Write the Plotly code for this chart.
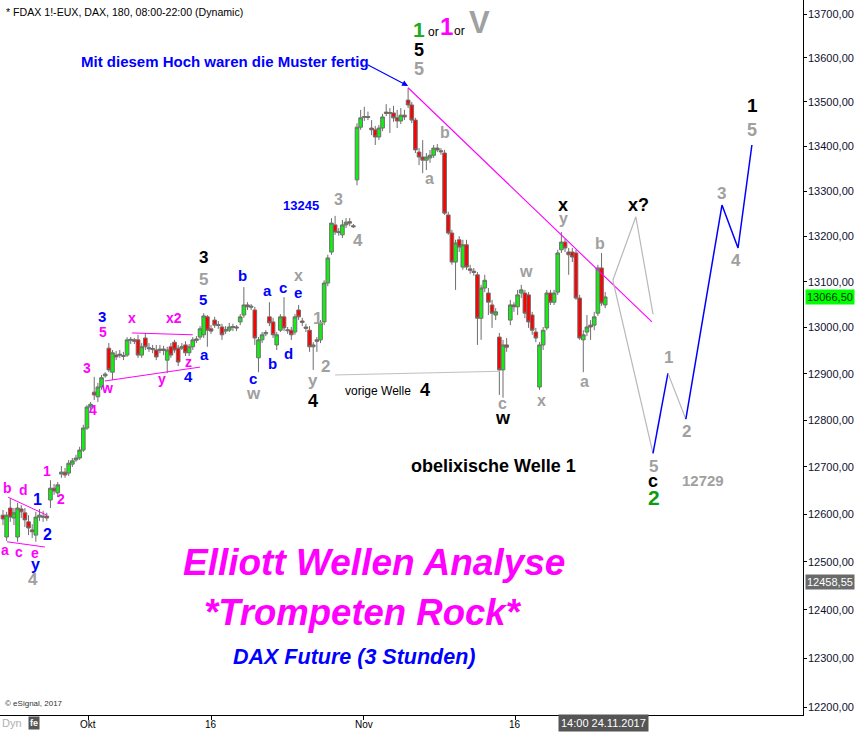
import math
import plotly.graph_objects as go

# ---------------- data ----------------
opens = [12598, 12552, 12613, 12592, 12552, 12611, 12603, 12584, 12567, 12556, 12594, 12596, 12596,
         12630, 12655, 12645, 12685, 12689, 12687, 12706, 12715, 12719, 12736, 12783, 12828, 12860,
         12850, 12871, 12895, 12955, 12903, 12940, 12942, 12937, 12940, 12972, 12973, 12973, 12940,
         12977, 12956, 12952, 12951, 12950, 12953, 12929, 12958, 12968, 12955, 12955, 12962, 12945,
         12958, 12975, 12979, 12984, 13023, 12997, 13016, 13004, 13001, 12992, 12994, 13000, 13001,
         13012, 13027, 13049, 13044, 13038, 12934, 12973, 12986, 13023, 13012, 12962, 12994, 13023,
         12995, 12994, 12990, 13038, 13014, 13001, 12994, 12958, 12973, 12973, 13012, 13097, 13165,
         13225, 13210, 13203, 13225, 13232, 13223, 13325, 13443, 13465, 13467, 13441, 13437, 13421,
         13441, 13477, 13474, 13475, 13464, 13457, 13470, 13504, 13493, 13459, 13387, 13376, 13369,
         13374, 13380, 13396, 13390, 13385, 13247, 13207, 13143, 13192, 13132, 13181, 13128, 13123,
         13115, 13020, 13086, 13075, 13049, 13027, 12979, 12908, 12962, 13016, 13049, 13045, 13075,
         13075, 13071, 13027, 12990, 12871, 12962, 12999, 13075, 13055, 13077, 13170, 13187, 13165,
         13165, 13163, 13064, 12973, 12990, 13005, 13005, 13031, 13130, 13049]
highs = [12609, 12605, 12634, 12613, 12624, 12619, 12613, 12598, 12579, 12605, 12611, 12607, 12603,
         12672, 12664, 12668, 12702, 12698, 12715, 12719, 12726, 12743, 12790, 12832, 12839, 12893,
         12880, 12897, 12903, 12966, 12951, 12949, 12951, 12947, 12979, 12979, 12977, 12984, 12966,
         12988, 12966, 12962, 12962, 12962, 12960, 12958, 12966, 12973, 12962, 12966, 12970, 12964,
         12979, 12981, 13003, 13031, 13027, 13005, 13023, 13014, 13008, 13003, 13010, 13008, 13005,
         13029, 13088, 13055, 13051, 13045, 12979, 12990, 12994, 13055, 13021, 12990, 13029, 13066,
         13001, 13001, 13029, 13049, 13021, 13008, 13003, 12968, 12979, 13016, 13103, 13159, 13240,
         13245, 13218, 13236, 13240, 13240, 13227, 13452, 13482, 13489, 13478, 13459, 13446, 13448,
         13473, 13495, 13486, 13491, 13482, 13486, 13482, 13532, 13500, 13464, 13396, 13414, 13385,
         13392, 13403, 13405, 13396, 13392, 13254, 13214, 13192, 13200, 13192, 13192, 13137, 13130,
         13121, 13093, 13115, 13086, 13060, 13042, 12988, 12973, 12977, 13060, 13055, 13082, 13093,
         13082, 13077, 13034, 12999, 12968, 13001, 13082, 13082, 13082, 13170, 13209, 13194, 13174,
         13174, 13170, 13071, 12994, 13027, 13016, 13034, 13137, 13163, 13077]
lows = [12577, 12544, 12584, 12577, 12542, 12592, 12573, 12556, 12550, 12542, 12586, 12584, 12586,
        12613, 12641, 12636, 12677, 12677, 12681, 12700, 12711, 12715, 12732, 12779, 12822, 12843,
        12839, 12865, 12891, 12903, 12886, 12929, 12934, 12929, 12936, 12964, 12964, 12934, 12934,
        12951, 12947, 12944, 12929, 12944, 12940, 12901, 12934, 12945, 12916, 12951, 12938, 12938,
        12951, 12966, 12973, 12977, 12958, 12986, 12999, 12997, 12973, 12986, 12990, 12992, 12992,
        13005, 13021, 13038, 13038, 12962, 12903, 12966, 12981, 13003, 12977, 12951, 12990, 12992,
        12986, 12973, 12984, 13016, 13003, 12990, 12947, 12908, 12947, 12966, 13005, 13090, 13159,
        13203, 13201, 13196, 13218, 13222, 13218, 13313, 13437, 13457, 13459, 13425, 13403, 13414,
        13434, 13468, 13430, 13455, 13441, 13450, 13459, 13486, 13452, 13385, 13358, 13340, 13347,
        13363, 13374, 13387, 13381, 13247, 13203, 13137, 13082, 13165, 13126, 13126, 13117, 13113,
        12962, 12973, 13077, 13027, 12999, 13016, 12854, 12848, 12947, 13005, 13034, 13027, 13064,
        13020, 12999, 12984, 12968, 12865, 12951, 12994, 13049, 13049, 13071, 13163, 13165, 13115,
        13143, 13060, 12973, 12903, 12981, 12973, 12994, 13025, 13047, 13042]
closes = [12590, 12598, 12594, 12603, 12613, 12605, 12588, 12571, 12563, 12594, 12598, 12594, 12592,
          12655, 12649, 12662, 12689, 12683, 12708, 12713, 12719, 12736, 12783, 12828, 12834, 12854,
          12871, 12891, 12899, 12908, 12945, 12936, 12940, 12939, 12973, 12974, 12970, 12940, 12958,
          12958, 12954, 12954, 12936, 12953, 12950, 12951, 12940, 12951, 12925, 12958, 12945, 12958,
          12973, 12972, 12997, 13025, 12994, 12992, 13005, 13006, 12984, 12995, 13001, 13002, 12999,
          13023, 13049, 13045, 13046, 12977, 12973, 12984, 12989, 13010, 12984, 12984, 13023, 12999,
          12993, 12984, 13023, 13023, 13011, 12998, 12958, 12962, 12970, 13010, 13097, 13152, 13229,
          13209, 13208, 13225, 13231, 13229, 13221, 13443, 13464, 13467, 13465, 13437, 13421, 13441,
          13466, 13474, 13476, 13464, 13457, 13470, 13466, 13493, 13459, 13392, 13376, 13369, 13376,
          13380, 13396, 13392, 13388, 13251, 13207, 13143, 13185, 13176, 13181, 13132, 13125, 13120,
          13020, 13086, 13103, 13055, 13031, 13034, 12908, 12962, 12957, 13049, 13045, 13071, 13082,
          13031, 13012, 12994, 12977, 12962, 12994, 13075, 13055, 13075, 13163, 13187, 13174, 13159,
          13154, 13064, 12977, 12984, 13001, 13001, 13023, 13130, 13053, 13066.5]
bars = list(range(len(opens)))

x_tick_vals = [23.3, 57.1, 98.9, 140.3]
x_tick_text = ["Okt", "16", "Nov", "16"]
y_tick_vals = [12200, 12300, 12400, 12500, 12600, 12700, 12800, 12900,
               13000, 13100, 13200, 13300, 13400, 13500, 13600, 13700]
y_tick_text = ["12200,00", "12300,00", "12400,00", "12500,00", "12600,00", "12700,00",
               "12800,00", "12900,00", "13000,00", "13100,00", "13200,00", "13300,00",
               "13400,00", "13500,00", "13600,00", "13700,00"]

last_price = 13066.5
last_price_text = "13066,50"
marker_price = 12458.55
marker_text = "12458,55"

# wave lines (bar position, price)
trend_bar, trend_price = [111, 177.8], [13532, 13012]
tri_up_bar, tri_up_price = [1.4, 12.0], [12636, 12598]
tri_lo_bar, tri_lo_price = [1.1, 11.5], [12542, 12531]
flat_up_bar, flat_up_price = [35.3, 52.0], [12988, 12984]
flat_lo_bar, flat_lo_price = [27.9, 54.0], [12884, 12914]
prev4_bar, prev4_price = [91.0, 136.2], [12897, 12905]
xq_bar, xq_price = [167.1, 173.4, 178.1], [13103, 13243, 13029]
down_bar, down_price = [167.1, 178.1], [13103, 12729]
w1_bar, w1_price = [178.1, 182.2], [12729, 12901]
w2_bar, w2_price = [182.2, 187.1], [12901, 12802]
w35_bar, w35_price = [187.1, 197.0, 201.4, 205.2], [12802, 13269, 13174, 13403]

# ---------------- figure ----------------
FONT = "Liberation Sans, Arial, sans-serif"
MAG, BLU, GRY, BLK, GRN = "#ff00ff", "#0000ff", "#a0a0a0", "#000000", "#109a10"

fig = go.Figure()
fig.add_trace(go.Candlestick(
    x=bars, open=opens, high=highs, low=lows, close=closes,
    increasing=dict(line=dict(color="#6e6e6e", width=1), fillcolor="#10f010"),
    decreasing=dict(line=dict(color="#6e6e6e", width=1), fillcolor="#ff0000"),
    whiskerwidth=0, hoverinfo="skip"))


def line(xs, ys, color, width=1.0):
    fig.add_trace(go.Scatter(x=xs, y=ys, mode="lines", hoverinfo="skip",
                             line=dict(color=color, width=width)))


line(trend_bar, trend_price, MAG, 1.1)
line(tri_up_bar, tri_up_price, MAG, 1)
line(tri_lo_bar, tri_lo_price, MAG, 1)
line(flat_up_bar, flat_up_price, MAG, 1)
line(flat_lo_bar, flat_lo_price, MAG, 1)
line(prev4_bar, prev4_price, "#c0c0c0", 1)
line(xq_bar, xq_price, "#b8b8b8", 1.2)
line(down_bar, down_price, "#b8b8b8", 1.2)
line(w1_bar, w1_price, BLU, 1.5)
line(w2_bar, w2_price, "#b8b8b8", 1.2)
line(w35_bar, w35_price, BLU, 1.5)

PW, PH = 803.0, 715.0
ann = []


def lab(text, xp, yp, color, size, bold=True, italic=False, xanchor="center"):
    t = text
    if bold:
        t = "<b>" + t + "</b>"
    if italic:
        t = "<i>" + t + "</i>"
    ann.append(dict(text=t, x=xp / PW, y=1 - yp / PH, xref="paper", yref="paper",
                    showarrow=False, xanchor=xanchor, yanchor="middle",
                    font=dict(family=FONT, size=size, color=color)))


# header
lab("* FDAX 1!-EUX, DAX, 180, 08:00-22:00 (Dynamic)", 4, 12, BLK, 10.6, bold=False, xanchor="left")
lab("Mit diesem Hoch waren die Muster fertig", 225, 61, BLU, 15)
ann.append(dict(x=111, y=math.log10(13536), xref="x", yref="y", ax=-42, ay=-22,
                showarrow=True, arrowhead=2, arrowsize=1, arrowwidth=1.2, arrowcolor=BLU, text=""))

for t, x, y, c, s in [("b", 7, 488, MAG, 14), ("d", 23, 490, MAG, 14), ("1", 37, 499, BLU, 16),
                      ("2", 47, 534, BLU, 16), ("a", 5, 550, MAG, 14), ("c", 19, 552, MAG, 14),
                      ("e", 35, 553, MAG, 14), ("y", 35, 564, BLU, 16), ("4", 33, 579, GRY, 17),
                      ("1", 47, 471, MAG, 14), ("2", 61, 499, MAG, 14),
                      ("4", 93, 410, MAG, 14), ("3", 87, 368, MAG, 14), ("w", 107, 388, MAG, 14),
                      ("5", 103, 332, MAG, 14), ("3", 102, 316, BLU, 15), ("x", 132, 318, MAG, 14),
                      ("x2", 174, 318, MAG, 14), ("y", 162, 379, MAG, 14), ("z", 188, 362, MAG, 14),
                      ("4", 188, 377, BLU, 15), ("a", 204, 355, BLU, 15), ("5", 203, 299, BLU, 15),
                      ("5", 203, 279, GRY, 17), ("3", 203, 257, BLK, 17), ("b", 242, 276, BLU, 15),
                      ("a", 267, 290, BLU, 15), ("c", 283, 287, BLU, 15), ("e", 298, 293, BLU, 15),
                      ("x", 298, 275, GRY, 16), ("b", 272, 363, BLU, 15), ("d", 288, 353, BLU, 15),
                      ("c", 253, 378, BLU, 15), ("w", 253, 393, GRY, 17), ("1", 317, 318, GRY, 17),
                      ("2", 325, 366, GRY, 17), ("y", 313, 380, GRY, 17), ("4", 313, 401, BLK, 18),
                      ("3", 338, 199, GRY, 16), ("4", 358, 241, GRY, 17), ("b", 445, 132, GRY, 16),
                      ("a", 429, 179, GRY, 16), ("x", 563, 205, BLK, 18), ("y", 563, 218, GRY, 16),
                      ("w", 526, 271, GRY, 16), ("b", 600, 243, GRY, 16), ("a", 584, 381, GRY, 16),
                      ("x", 541, 400, GRY, 16), ("c", 503, 403, GRY, 16), ("w", 503, 418, BLK, 18),
                      ("4", 425, 390, BLK, 18), ("5", 419, 50, BLK, 18), ("5", 419, 69, GRY, 18),
                      ("x?", 638, 205, BLK, 18), ("1", 668, 357, GRY, 17), ("2", 686, 431, GRY, 17),
                      ("3", 721, 193, GRY, 17), ("4", 736, 260, GRY, 17), ("5", 653, 466, GRY, 17),
                      ("c", 653, 481, BLK, 18), ("2", 654, 497, GRN, 21), ("12729", 703, 480, GRY, 15),
                      ("1", 752, 105, BLK, 19), ("5", 752, 130, GRY, 18)]:
    lab(t, x, y, c, s)

lab("13245", 301, 206, BLU, 13)
lab("vorige Welle", 378, 391, BLK, 12, bold=False)
lab("obelixische Welle 1", 493, 466, BLK, 18)
lab("1", 419, 29, "#22aa22", 21)
lab("or", 433, 32, BLK, 12, bold=False)
lab("1", 446, 26, MAG, 24)
lab("or", 460, 31, BLK, 12, bold=False)
lab("V", 479, 23, GRY, 31)

lab("Elliott Wellen Analyse", 374, 562, MAG, 37, italic=True)
lab("*Trompeten Rock*", 363, 612, MAG, 36.5, italic=True)
lab("DAX Future (3 Stunden)", 354, 657, BLU, 21.5, italic=True)

lab("© eSignal, 2017", 3, 703, "#333333", 8, bold=False, xanchor="left")
lab("Dyn", 0, 723, "#b0b0b0", 11, bold=False, xanchor="left")
ann.append(dict(text="<b>fe</b>", x=34 / PW, y=1 - 723 / PH, xref="paper", yref="paper",
                xanchor="center", yanchor="middle", showarrow=False, bgcolor="#555555",
                font=dict(family=FONT, size=9, color="white"), borderpad=1))
ann.append(dict(text="14:00 24.11.2017", x=603 / PW, y=1 - 723 / PH, xref="paper", yref="paper",
                xanchor="center", yanchor="middle", showarrow=False, bgcolor="#555555",
                font=dict(family=FONT, size=11, color="white"), borderpad=2))

# x tick labels
for v, t in zip(x_tick_vals, x_tick_text):
    ann.append(dict(text=t, x=v, xref="x", y=-9 / PH, yref="paper", xanchor="center",
                    yanchor="middle", showarrow=False,
                    font=dict(family=FONT, size=10, color="black")))
# y tick labels
for v, t in zip(y_tick_vals, y_tick_text):
    ann.append(dict(text=t, x=1.0, xref="paper", y=math.log10(v), yref="y", xanchor="left",
                    yanchor="middle", xshift=3, showarrow=False,
                    font=dict(family=FONT, size=11, color="#101030")))

# price boxes on the axis
ann.append(dict(text=last_price_text, x=1.0, xref="paper", y=math.log10(last_price), yref="y",
                xanchor="left", yanchor="middle", showarrow=False, bgcolor="#00ff00", xshift=2,
                font=dict(family=FONT, size=11, color="#003300"), borderpad=1))
ann.append(dict(text=marker_text, x=1.0, xref="paper", y=math.log10(marker_price), yref="y",
                xanchor="left", yanchor="middle", showarrow=False, bgcolor="#6a6a6a", xshift=2,
                font=dict(family=FONT, size=11, color="white"), borderpad=1))

fig.update_layout(
    width=855, height=732, margin=dict(l=0, r=52, t=0, b=17),
    paper_bgcolor="white", plot_bgcolor="white", showlegend=False,
    boxgap=0, boxgroupgap=0, annotations=ann,
    font=dict(family=FONT, size=11, color="#000000"),
    xaxis=dict(range=[-0.82, 219.2], tickvals=x_tick_vals, showticklabels=False,
               ticks="outside", ticklen=4, tickcolor="black", showline=True, linecolor="black",
               showgrid=False, zeroline=False, rangeslider=dict(visible=False)),
    yaxis=dict(type="log", range=[4.085779, 4.137738], side="right", tickvals=y_tick_vals,
               showticklabels=False, ticks="outside", ticklen=3, tickcolor="black",
               showline=True, linecolor="black", showgrid=False, zeroline=False),
)

fig.write_html("out.html", config={"displayModeBar": False},
               post_script="document.body.style.margin='0';document.body.style.overflow='hidden';")
